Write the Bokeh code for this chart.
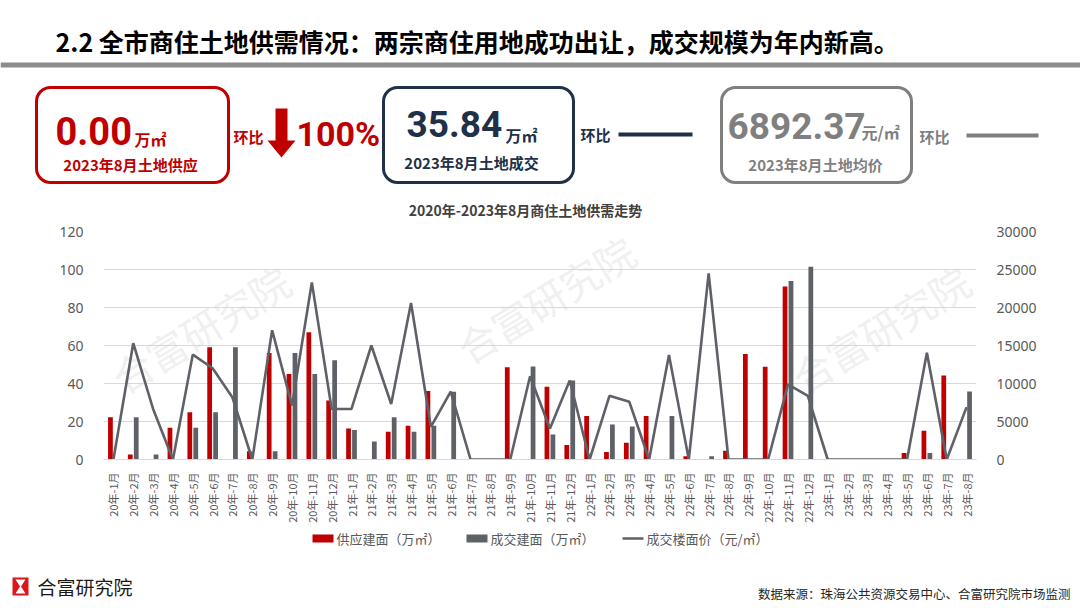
from math import pi
from bokeh.plotting import figure
from bokeh.models import (ColumnDataSource, Range1d, FactorRange, LinearAxis,
                          FixedTicker)
from bokeh.transform import dodge
from bokeh.core.properties import value
from bokeh.embed import file_html
from bokeh.resources import INLINE

# ---------------- data ----------------
months = ["20年-1月", "20年-2月", "20年-3月", "20年-4月", "20年-5月", "20年-6月",
          "20年-7月", "20年-8月", "20年-9月", "20年-10月", "20年-11月", "20年-12月",
          "21年-1月", "21年-2月", "21年-3月", "21年-4月", "21年-5月", "21年-6月",
          "21年-7月", "21年-8月", "21年-9月", "21年-10月", "21年-11月", "21年-12月",
          "22年-1月", "22年-2月", "22年-3月", "22年-4月", "22年-5月", "22年-6月",
          "22年-7月", "22年-8月", "22年-9月", "22年-10月", "22年-11月", "22年-12月",
          "23年-1月", "23年-2月", "23年-3月", "23年-4月", "23年-5月", "23年-6月",
          "23年-7月", "23年-8月"]
supply = [22.3, 2.6, 0, 16.7, 24.9, 59.1, 0, 4.3, 56.0, 45.0, 67.0, 31.0,
          16.3, 0, 14.6, 17.7, 36.0, 0, 0, 0, 48.6, 0, 38.3, 7.6,
          22.9, 4.0, 8.8, 22.9, 0, 1.7, 0, 4.6, 55.5, 48.8, 91.0, 0,
          0, 0, 0, 0, 3.4, 15.1, 44.2, 0]
deal = [0, 22.3, 2.6, 0, 16.7, 24.9, 59.1, 0, 4.3, 56.0, 45.0, 52.2,
        15.5, 9.5, 22.3, 14.6, 17.7, 35.7, 0, 0, 0, 49.0, 13.2, 41.6,
        0, 18.4, 17.4, 0, 22.9, 0, 1.7, 0, 0, 0, 94.0, 101.4,
        0, 0, 0, 0, 0, 3.4, 0, 35.84]
price = [0, 15300, 6650, 0, 13800, 12000, 8160, 0, 17000, 7100, 23300, 6650,
         6650, 15000, 7300, 20600, 4300, 8930, 0, 0, 0, 10950, 4080, 10400,
         0, 8380, 7600, 0, 13750, 0, 24500, 0, 0, 0, 9880, 8380,
         0, 0, 0, 0, 0, 14050, 0, 6892.37]
left_ticks = [0, 20, 40, 60, 80, 100, 120]
right_ticks = [0, 5000, 10000, 15000, 20000, 25000, 30000]

title_text = "2.2 全市商住土地供需情况：两宗商住用地成功出让，成交规模为年内新高。"
chart_title = "2020年-2023年8月商住土地供需走势"
legend_labels = ["供应建面（万㎡）", "成交建面（万㎡）", "成交楼面价（元/㎡）"]
source_text = "数据来源：珠海公共资源交易中心、合富研究院市场监测"

CJK = "Noto Sans CJK SC"
NUM = "Roboto"
RED = "#c00000"
NAVY = "#203047"
GRAY = "#7f7f7f"
BARGRAY = "#5f6169"
AXISTXT = "#595959"

WATERMARKS = [(200, 330), (545, 300), (880, 330)]
FRAME_L, FRAME_R = 103, 976
W = 1080


def canvas(h, y_top, y_bot):
    f = figure(width=W, height=h, x_range=Range1d(0, W),
               y_range=Range1d(y_bot, y_top), output_backend="svg",
               toolbar_location=None, min_border=0,
               x_axis_location=None, y_axis_location=None)
    f.grid.visible = False
    f.outline_line_color = None
    return f


def txt(f, x, y, s, size, color, bold=True, align="left", font=CJK,
        baseline="middle", angle=0.0, alpha=1.0, **kw):
    f.text(x=[x], y=[y], text=[s], text_font=value(font),
           text_font_size=f"{size}px",
           text_font_style="bold" if bold else "normal",
           text_color=color, text_align=align, text_baseline=baseline,
           angle=angle, text_alpha=alpha, **kw)


# ---------------- header ----------------
h = canvas(220, 0, 220)
txt(h, 55, 40, title_text, 25, "#000000")
h.quad(left=[0], right=[W], top=[62], bottom=[67], fill_color="#8c8c8c", line_color=None)

# card 1
h.quad(left=[36], right=[228], top=[87], bottom=[182], fill_color="white",
       line_color=RED, line_width=3, border_radius=14)
txt(h, 55, 130, "0.00", 38, RED, font=NUM)
txt(h, 134, 138, "万㎡", 16, RED)
txt(h, 130, 164, "2023年8月土地供应", 15, RED, align="center")
txt(h, 233, 136, "环比", 15, RED)
h.patch(x=[275, 287, 287, 295, 281, 267, 275], y=[108, 108, 140, 140, 157, 140, 140],
        fill_color=RED, line_color=None)
txt(h, 296, 133, "100%", 34, RED, font=NUM)

# card 2
h.quad(left=[383], right=[573], top=[87], bottom=[182], fill_color="white",
       line_color=NAVY, line_width=3, border_radius=14)
txt(h, 406, 123, "35.84", 37, NAVY, font=NUM)
txt(h, 505, 134, "万㎡", 16, NAVY)
txt(h, 471, 162, "2023年8月土地成交", 15, NAVY, align="center")
txt(h, 580, 134, "环比", 15, NAVY)
h.quad(left=[618], right=[692], top=[132], bottom=[136], fill_color=NAVY, line_color=None)

# card 3
h.quad(left=[721], right=[911], top=[87], bottom=[182], fill_color="white",
       line_color=GRAY, line_width=3, border_radius=14)
txt(h, 727, 125, "6892.37", 37, GRAY, font=NUM)
txt(h, 861, 131, "元/㎡", 16, GRAY)
txt(h, 815, 164, "2023年8月土地均价", 15, GRAY, align="center")
txt(h, 919, 136, "环比", 15, GRAY)
h.quad(left=[966], right=[1038], top=[133], bottom=[137], fill_color=GRAY, line_color=None)

txt(h, 525, 209, chart_title, 14, "#404040", align="center")

# ---------------- chart ----------------
src = ColumnDataSource(dict(m=months, supply=supply, deal=deal, price=price))

p = figure(width=W, height=305, x_range=FactorRange(*months),
           y_range=Range1d(0, 120), output_backend="svg", toolbar_location=None,
           min_border_left=FRAME_L, min_border_right=W - FRAME_R, min_border_top=11,
           min_border_bottom=62)
p.extra_y_ranges = {"price": Range1d(0, 30000), "wy": Range1d(463, 231)}
p.x_range.range_padding = 0
p.outline_line_color = None

nmon = len(months)
for (wx, wy) in WATERMARKS:
    txt(p, (wx - FRAME_L) / (FRAME_R - FRAME_L) * nmon, wy, "合富研究院", 40, "#d8d8d8",
        bold=False, align="center", angle=0.55, alpha=0.4, y_range_name="wy")

r1 = p.vbar(x=dodge("m", -0.15, range=p.x_range), top="supply", width=0.24,
            source=src, fill_color=RED, line_color=None)
r2 = p.vbar(x=dodge("m", 0.15, range=p.x_range), top="deal", width=0.24,
            source=src, fill_color=BARGRAY, line_color=None)
r3 = p.line(x="m", y="price", source=src, y_range_name="price",
            line_color=BARGRAY, line_width=2.6)

p.add_layout(LinearAxis(y_range_name="price", ticker=FixedTicker(ticks=right_ticks)), "right")
p.yaxis[0].ticker = FixedTicker(ticks=left_ticks)
for ax in p.yaxis:
    ax.axis_line_color = None
    ax.major_tick_line_color = None
    ax.minor_tick_line_color = None
    ax.major_label_text_font = "Noto Sans"
    ax.major_label_text_font_size = "14px"
    ax.major_label_text_color = AXISTXT
    ax.major_label_standoff = 14

p.ygrid.grid_line_color = "#d9d9d9"
p.xgrid.visible = False
p.xaxis.major_label_orientation = pi / 2
p.xaxis.major_label_text_font = CJK
p.xaxis.major_label_text_font_size = "11px"
p.xaxis.major_label_text_color = AXISTXT
p.xaxis.axis_line_color = "#d9d9d9"
p.xaxis.major_tick_line_color = None
p.xaxis.minor_tick_line_color = None
p.xaxis.major_label_standoff = 7

# ---------------- footer (legend + source) ----------------
f = canvas(83, 525, 608)
f.quad(left=[312], right=[333], top=[534], bottom=[542], fill_color=RED, line_color=None)
txt(f, 336, 538, legend_labels[0], 13, AXISTXT, bold=False)
f.quad(left=[466], right=[487], top=[534], bottom=[542], fill_color=BARGRAY, line_color=None)
txt(f, 490, 538, legend_labels[1], 13, AXISTXT, bold=False)
f.line(x=[622, 643], y=[538, 538], line_color=BARGRAY, line_width=2.6)
txt(f, 646, 538, legend_labels[2], 13, AXISTXT, bold=False)

f.quad(left=[12], right=[28], top=[577], bottom=[595], fill_color="#d9161c", line_color=None)
f.patch(x=[15, 25, 20.5, 25, 15, 19.5], y=[579, 579, 586, 593, 593, 586],
        fill_color="white", line_color=None)
txt(f, 37, 586, "合富研究院", 19, "#1a1a1a", bold=False)
txt(f, 1070, 593, source_text, 12.5, "#262626", bold=False, align="right")

open("out.html", "w").write(file_html([h, p, f], INLINE))
